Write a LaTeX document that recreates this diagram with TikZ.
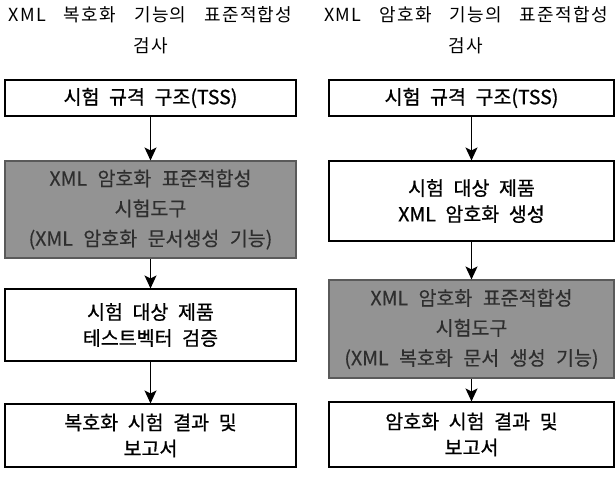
\documentclass[tikz,border=0pt]{standalone}
\usepackage{fontspec}
\setmainfont{Noto Sans CJK KR}
\newfontfamily\krwide[LetterSpace=7, WordSpace=3.4]{Noto Sans CJK KR}
\newfontfamily\krbox[WordSpace=2.2, FakeBold=0.8]{Noto Sans CJK KR}
\newfontfamily\krtool[WordSpace=2.4, FakeBold=0.3]{Noto Sans CJK KR}
\usepackage{tikz}
\usetikzlibrary{arrows.meta}
\definecolor{toolfill}{HTML}{939393}
\definecolor{tooledge}{HTML}{5A5A5A}
\definecolor{tooltext}{HTML}{2E2E2E}

\begin{document}
\begin{tikzpicture}[x=1pt,y=1pt]
                    \tikzstyle{every node}+=[inner sep=0pt]
                    \tikzstyle{heading}=[align=center, font=\krwide\fontsize{18}{31}\selectfont]
                    \tikzstyle{stepbox}=[draw=black, line width=1.1pt, fill=white, align=center, font=\krbox\fontsize{19.5}{26}\selectfont]
                    \tikzstyle{toolbox}=[stepbox, draw=tooledge, fill=toolfill, text=tooltext, font=\krtool\fontsize{19.5}{30}\selectfont]
                    \tikzstyle{flow}=[black, line width=1.3pt, -{Stealth[length=13pt, width=12pt, inset=3pt]}]
                    \useasboundingbox (0,0) rectangle (615,-477);
                    \node [heading] (lhead) at (150.5,-30.5) {XML 복호화 기능의 표준적합성\\검사};
                    \node [heading] (rhead) at (466,-30.5) {XML 암호화 기능의 표준적합성\\검사};
                    \node [stepbox, minimum width=291, minimum height=36] (ltss) at (150.5,-98) {시험 규격 구조(TSS)};
                    \node [toolbox, minimum width=291, minimum height=97] (ltool) at (150.5,-209.5) {XML 암호화 표준적합성\\시험도구\\(XML 암호화 문서생성 기능)};
                    \node [stepbox, minimum width=291, minimum height=72] (lprod) at (150.5,-325) {시험 대상 제품\\테스트벡터 검증};
                    \node [stepbox, minimum width=291, minimum height=63] (lrep) at (150.5,-435.5) {복호화 시험 결과 및\\보고서};
                    \node [stepbox, minimum width=285, minimum height=36] (rtss) at (471.5,-98) {시험 규격 구조(TSS)};
                    \node [stepbox, minimum width=285, minimum height=80] (rprod) at (471.5,-201) {시험 대상 제품\\XML 암호화 생성};
                    \node [toolbox, minimum width=285, minimum height=98] (rtool) at (471.5,-329) {XML 암호화 표준적합성\\시험도구\\(XML 복호화 문서 생성 기능)};
                    \node [stepbox, minimum width=285, minimum height=65] (rrep) at (471.5,-434.5) {암호화 시험 결과 및\\보고서};
                    \draw [flow] (ltss) -- (ltool);
                    \draw [flow] (ltool) -- (lprod);
                    \draw [flow] (lprod) -- (lrep);
                    \draw [flow] (rtss) -- (rprod);
                    \draw [flow] (rprod) -- (rtool);
                    \draw [flow] (rtool) -- (rrep);
\end{tikzpicture}
\end{document}
